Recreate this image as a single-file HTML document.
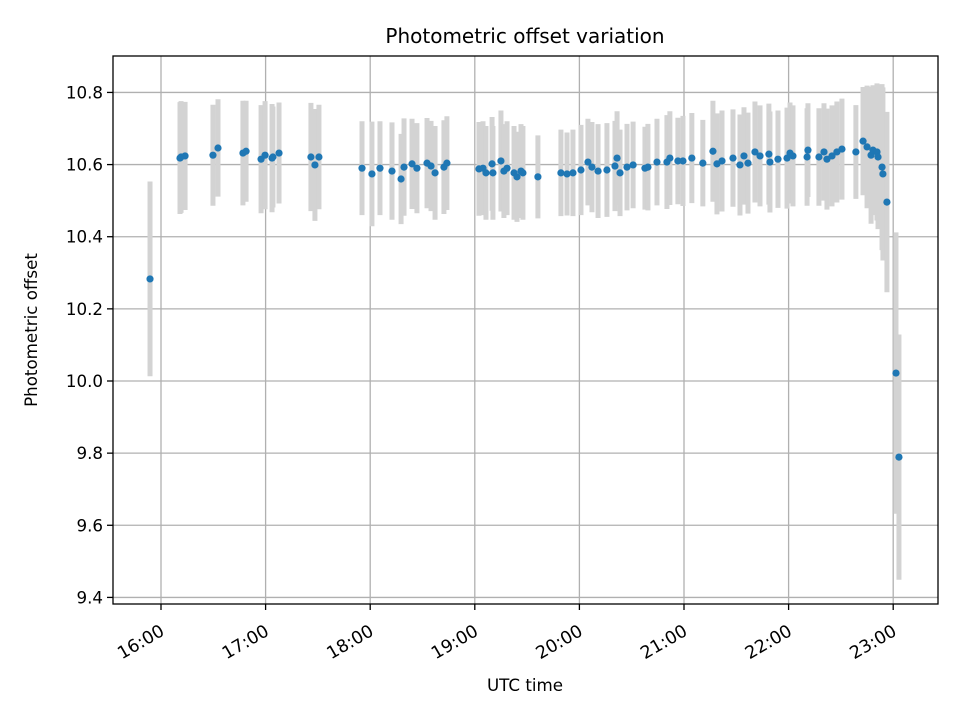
<!DOCTYPE html>
<html><head><meta charset="utf-8"><style>body{margin:0;background:#fff}svg{display:block}text{font-family:"DejaVu Sans","Liberation Sans",sans-serif;fill:#000}</style></head>
<body>
<svg id="chart" width="960" height="720" viewBox="0 0 960 720">
<rect width="960" height="720" fill="#fff"/>
<g id="grid"></g><g id="bars"></g><g id="pts"></g><g id="axes"></g>
</svg>
<script>
// minutes after 16:00 UTC
const times=[-6.3,10.9,11.5,13.8,29.8,32.7,47.0,48.8,57.4,59.7,63.7,64.2,67.7,86.0,88.3,90.6,115.3,121.0,125.6,132.5,137.7,139.4,144.0,146.8,152.6,154.9,157.2,162.3,164.0,182.4,184.7,186.4,189.9,190.4,195.0,196.7,198.5,202.5,204.2,206.5,207.6,216.2,229.4,232.9,236.3,240.9,244.9,247.2,250.7,255.8,260.4,261.6,263.3,267.3,270.8,277.6,279.3,284.5,290.2,291.9,296.5,299.4,304.5,310.8,316.6,318.9,321.8,328.1,332.1,334.4,336.7,340.7,343.6,348.7,349.3,353.9,359.1,360.8,362.5,370.6,371.1,377.4,380.3,382.0,384.9,387.7,390.6,398.6,402.7,405.0,407.3,408.4,410.7,411.3,413.6,414.1,416.4,421.6,423.3];
const offsets=[10.283,10.618,10.621,10.624,10.626,10.646,10.632,10.637,10.615,10.626,10.618,10.621,10.632,10.621,10.599,10.621,10.590,10.574,10.590,10.582,10.560,10.593,10.602,10.590,10.604,10.596,10.577,10.593,10.604,10.588,10.590,10.577,10.602,10.577,10.610,10.582,10.590,10.577,10.566,10.582,10.577,10.566,10.577,10.574,10.577,10.585,10.607,10.593,10.582,10.585,10.596,10.618,10.577,10.593,10.599,10.590,10.593,10.607,10.607,10.618,10.610,10.610,10.618,10.604,10.637,10.602,10.610,10.618,10.599,10.624,10.604,10.635,10.624,10.629,10.607,10.615,10.618,10.632,10.624,10.621,10.640,10.621,10.635,10.615,10.624,10.635,10.643,10.635,10.665,10.649,10.626,10.640,10.635,10.621,10.593,10.574,10.496,10.022,9.789];
const errors=[0.27,0.155,0.155,0.15,0.14,0.135,0.145,0.14,0.15,0.15,0.15,0.14,0.14,0.15,0.155,0.145,0.13,0.145,0.13,0.135,0.125,0.135,0.125,0.125,0.125,0.125,0.13,0.13,0.13,0.13,0.13,0.13,0.13,0.13,0.14,0.13,0.13,0.13,0.125,0.13,0.13,0.115,0.12,0.115,0.12,0.125,0.12,0.125,0.13,0.13,0.125,0.13,0.12,0.12,0.12,0.115,0.12,0.12,0.13,0.13,0.12,0.125,0.125,0.12,0.14,0.14,0.14,0.135,0.14,0.135,0.14,0.14,0.14,0.14,0.14,0.135,0.14,0.14,0.14,0.135,0.13,0.135,0.135,0.14,0.14,0.14,0.14,0.13,0.15,0.17,0.19,0.18,0.19,0.2,0.23,0.24,0.25,0.39,0.34];
const yTicks=[9.4,9.6,9.8,10.0,10.2,10.4,10.6,10.8];
const yTickLabels=["9.4","9.6","9.8","10.0","10.2","10.4","10.6","10.8"];
const xTicks=[0,60,120,180,240,300,360,420];
const xTickLabels=["16:00","17:00","18:00","19:00","20:00","21:00","22:00","23:00"];

const L=113,R=938,T=56,B=604;
const X=m=>161+m*104.6/60;
const Y=v=>381-(v-10)*360.7;
const NS='http://www.w3.org/2000/svg';
function mk(parent,tag,attrs,txt){const e=document.createElementNS(NS,tag);for(const k in attrs)e.setAttribute(k,attrs[k]);if(txt!==undefined)e.textContent=txt;document.getElementById(parent).appendChild(e);return e;}
yTicks.forEach((v,i)=>{
  const g=mk('grid','line',{x1:L,x2:R,y1:Y(v),y2:Y(v),stroke:'#b0b0b0','stroke-width':1.3});
  
  
  const t=mk('axes','line',{x1:L-6,x2:L,y1:Y(v),y2:Y(v),stroke:'#000','stroke-width':1.3});
  
  
  const l=mk('axes','text',{x:L-10,y:Y(v)+6,'text-anchor':'end','font-size':16.7},yTickLabels[i]);
  
  
});
xTicks.forEach((m,i)=>{
  const g=mk('grid','line',{x1:X(m),x2:X(m),y1:T,y2:B,stroke:'#b0b0b0','stroke-width':1.3});
  
  
  const t=mk('axes','line',{x1:X(m),x2:X(m),y1:B,y2:B+6,stroke:'#000','stroke-width':1.3});
  
  
  const x=X(m)-2,y=B+19;
  const l=mk('axes','text',{x:x,y:y,'text-anchor':'end','font-size':17.5,transform:`rotate(-30 ${x} ${y})`,dy:'0.75em'},xTickLabels[i]);
  
  
});
times.forEach((m,i)=>{
  const b=mk('bars','line',{x1:X(m),x2:X(m),y1:Y(offsets[i]+errors[i]),y2:Y(offsets[i]-errors[i]),stroke:'#d3d3d3','stroke-width':5});
  
  
  const c=mk('pts','circle',{cx:X(m),cy:Y(offsets[i]),r:3.6,fill:'#1f77b4'});
  
  
});
const f=mk('axes','rect',{x:L,y:T,width:R-L,height:B-T,fill:'none',stroke:'#000','stroke-width':1.3});


const tt=mk('axes','text',{x:525,y:43,'text-anchor':'middle','font-size':20},'Photometric offset variation');


const xl=mk('axes','text',{x:525,y:691,'text-anchor':'middle','font-size':16.7},'UTC time');


const yl=mk('axes','text',{x:37,y:330,'text-anchor':'middle','font-size':16.7,transform:'rotate(-90 37 330)'},'Photometric offset');


</script>
</body></html>
